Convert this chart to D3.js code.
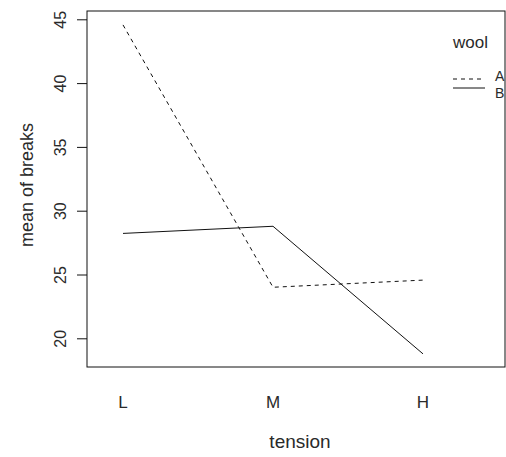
<!DOCTYPE html>
<meta charset="utf-8">
<html><head>
<style>
body { margin: 0; background: #fff; }
text { font-family: "Liberation Sans", Arial, sans-serif; fill: #2a2a2a; }
</style>
</head>
<body>
<svg width="506" height="457"></svg>
<script src="https://cdnjs.cloudflare.com/ajax/libs/d3/7.8.5/d3.min.js"></script>
<script>

var tension = ["L", "M", "H"];
var woolA = [44.56, 24.00, 24.56];
var woolB = [28.22, 28.78, 18.78];
var yTicks = [20, 25, 30, 35, 40, 45];

var svg = d3.select("svg");

var box = {left: 87, top: 11, right: 505, bottom: 367};

var x = d3.scalePoint()
    .domain(tension)
    .range([123, 423]);

var y = d3.scaleLinear()
    .domain([20, 45])
    .range([338.3, 19.3]);

svg.append("rect")
    .attr("x", box.left)
    .attr("y", box.top)
    .attr("width", box.right - box.left)
    .attr("height", box.bottom - box.top)
    .attr("fill", "none")
    .attr("stroke", "#111")
    .attr("stroke-width", 1);

// y axis, labels turned like R's las=0
var yAxis = svg.append("g")
    .attr("transform", "translate(" + box.left + ",0)")
    .call(d3.axisLeft(y).tickValues(yTicks).tickSize(10).tickFormat(d3.format("d")));
yAxis.select(".domain").remove();
yAxis.selectAll("line").attr("stroke", "#111");
yAxis.selectAll(".tick text")
    .attr("x", null)
    .attr("dy", "0.35em")
    .attr("text-anchor", "middle")
    .attr("transform", "translate(-27,0) rotate(-90)")
    .style("font-size", "16px")
    .style("font-family", null)
    .attr("fill", "#2a2a2a");

// x labels
svg.append("g").selectAll("text")
    .data(tension)
    .enter().append("text")
      .attr("x", function(d) { return x(d); })
      .attr("y", 408)
      .attr("text-anchor", "middle")
      .style("font-size", "17px")
      .text(function(d) { return d; });

svg.append("text")
    .attr("x", 300)
    .attr("y", 448)
    .attr("text-anchor", "middle")
    .style("font-size", "19px")
    .text("tension");

svg.append("text")
    .attr("transform", "translate(27,185) rotate(-90)")
    .attr("text-anchor", "middle")
    .attr("dy", "0.35em")
    .style("font-size", "18px")
    .text("mean of breaks");

var line = d3.line()
    .x(function(d, i) { return x(tension[i]); })
    .y(function(d) { return y(d); });

svg.append("path")
    .datum(woolA)
    .attr("d", line)
    .attr("fill", "none")
    .attr("stroke", "#111")
    .attr("stroke-width", 1)
    .attr("stroke-dasharray", "4,4");

svg.append("path")
    .datum(woolB)
    .attr("d", line)
    .attr("fill", "none")
    .attr("stroke", "#111")
    .attr("stroke-width", 1);

// legend
var legend = svg.append("g");
legend.append("text")
    .attr("x", 453)
    .attr("y", 48)
    .style("font-size", "17px")
    .text("wool");
[["A", "4,4", 79, 76], ["B", null, 88, 93]].forEach(function(d) {
  legend.append("line")
      .attr("x1", 453).attr("x2", 485)
      .attr("y1", d[2]).attr("y2", d[2])
      .attr("stroke", "#111")
      .attr("stroke-dasharray", d[1]);
  legend.append("text")
      .attr("x", 495)
      .attr("y", d[3])
      .attr("dy", "0.35em")
      .style("font-size", "14px")
      .text(d[0]);
});

</script>
</body>
</html>
